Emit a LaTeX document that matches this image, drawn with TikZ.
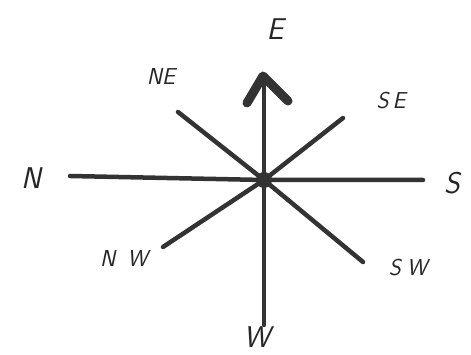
\documentclass[tikz,border=0pt]{standalone}
\begin{document}
\begin{tikzpicture}[x=1pt,y=1pt,
  ray/.style={line width=4.5pt,color=black!80,line cap=round},
  head/.style={line width=9pt,color=black!80,line cap=round,line join=round},
  lbl/.style={font=\fontsize{30}{30}\selectfont\itshape\sffamily,text=black!85,inner sep=0pt},
  slbl/.style={font=\fontsize{23}{23}\selectfont\itshape\sffamily,text=black!85,inner sep=0pt}]
\useasboundingbox (0,0) rectangle (471,355);
\coordinate (c) at (264,175);
\coordinate (n) at (70,179);
\coordinate (s) at (423,175);
\coordinate (e) at (264,270);
\coordinate (w) at (264,30);
\coordinate (ne) at (178,243);
\coordinate (se) at (343,237);
\coordinate (nw) at (163,108);
\coordinate (sw) at (363,93);
\coordinate (hl) at (247,252);
\coordinate (ha) at (263,279);
\coordinate (hr) at (288,254);
\draw[ray] (n) -- (c) -- (s);
\draw[ray] (c) -- (w);
\draw[ray] (ne) -- (c) -- (sw);
\draw[ray] (nw) -- (c) -- (se);
\draw[ray] (c) -- (e);
\draw[head] (hl) -- (ha) -- (hr);
\fill[black!80] (c) circle (8);
\node[lbl] (ln) at (31,177) {N};
\node[lbl] (ls) at (452,172) {S};
\node[lbl] (le) at (275,326) {E};
\node[lbl] (lw) at (257,18) {W};
\node[slbl] (lne) at (161,278) {NE};
\node[slbl] (lse) at (391,254) {S\hspace{4pt}E};
\node[slbl] (lnw) at (124,96) {N\hspace{12pt}W};
\node[slbl] (lsw) at (408,87) {S\hspace{6pt}W};
\end{tikzpicture}
\end{document}
